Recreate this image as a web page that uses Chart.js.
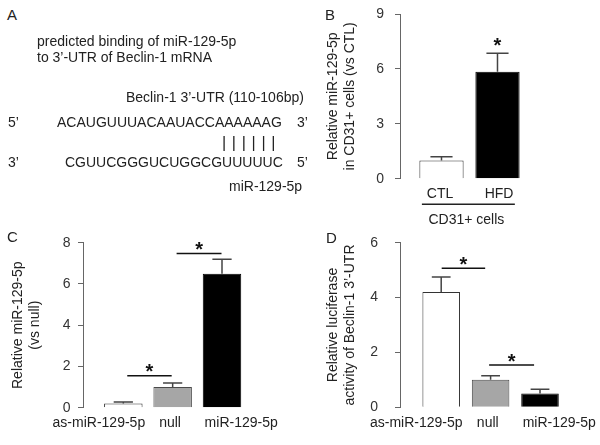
<!DOCTYPE html>
<html>
<head>
<meta charset="utf-8">
<script src="https://cdn.jsdelivr.net/npm/chart.js@4.4.1/dist/chart.umd.min.js"></script>
<style>
  body { margin: 0; background: #fff; }
  #fig { position: relative; width: 600px; height: 445px; overflow: hidden;
         font-family: "Liberation Sans", Arial, sans-serif; color: #222; }
  .t { position: absolute; white-space: nowrap; font-size: 14px; line-height: 16px; }
  .p { position: absolute; font-size: 15px; line-height: 18px; }
  .pipes { position: absolute; font-size: 16px; line-height: 18px; letter-spacing: 5.7px; }
  canvas { position: absolute; }
</style>
</head>
<body>
<div id="fig">
  <canvas id="chartB" width="300" height="232" style="left:300px;top:0"></canvas>
  <canvas id="chartC" width="300" height="220" style="left:0;top:225px"></canvas>
  <canvas id="chartD" width="300" height="220" style="left:300px;top:225px"></canvas>

  <!-- panel A: sequence alignment -->
  <div class="p" style="left:7px;top:6px">A</div>
  <div class="t" style="left:37px;top:33px">predicted binding of miR-129-5p</div>
  <div class="t" style="left:37px;top:49px">to 3’-UTR of Beclin-1 mRNA</div>
  <div class="t" style="left:126px;top:89px">Beclin-1 3’-UTR (110-106bp)</div>
  <div class="t" style="left:8px;top:114px">5’</div>
  <div class="t" style="left:57px;top:114px">ACAUGUUUACAAUACCAAAAAAG</div>
  <div class="t" style="left:297px;top:114px">3’</div>
  <div class="pipes" style="left:222px;top:134px">||||||</div>
  <div class="t" style="left:8px;top:154px">3’</div>
  <div class="t" style="left:65px;top:154px">CGUUCGGGUCUGGCGUUUUUC</div>
  <div class="t" style="left:297px;top:154px">5’</div>
  <div class="t" style="left:229px;top:178px">miR-129-5p</div>

  <div class="p" style="left:325px;top:6px">B</div>
  <div class="p" style="left:7px;top:228px">C</div>
  <div class="p" style="left:326px;top:229px">D</div>
</div>

<script>
// ---------- data ----------
const catB = ['CTL', 'HFD'];
const meanB = [1.0, 5.85];
const sdB = [0.2, 1.0];
const starB = [[2, 7.55]];           // [x, y] of the lone asterisk
const groupB = [0.65, 2.31, 'CD31+ cells'];

const catC = ['as-miR-129-5p', 'null', 'miR-129-5p'];
const meanC = [0.2, 1.0, 6.5];
const sdC = [0.08, 0.2, 0.7];
const sigC = [[1.08, 1.98, 1.55], [2.08, 2.99, 7.48]];   // [from, to, y]

const catD = ['as-miR-129-5p', 'null', 'miR-129-5p'];
const meanD = [4.2, 1.0, 0.5];
const sdD = [0.55, 0.15, 0.16];
const sigD = [[1.01, 1.89, 5.07], [1.97, 2.88, 1.54]];

const WHITE = '#ffffff', GREY = '#a6a6a6', BLACK = '#000000';
const edgeOf = { '#ffffff': '#333333', '#a6a6a6': '#4a4a4a', '#000000': '#000000' };

Chart.defaults.font.family = '"Liberation Sans", Arial, sans-serif';
Chart.defaults.font.size = 14;
Chart.defaults.color = '#333';

// error bars, significance lines and asterisks
const marks = {
  id: 'marks',
  afterDatasetsDraw(chart, args, o) {
    const ctx = chart.ctx;
    const xs = chart.scales.x, ys = chart.scales.y;
    const meta = chart.getDatasetMeta(0);
    ctx.save();
    ctx.strokeStyle = '#444';
    ctx.lineWidth = 1.5;
    meta.data.forEach((bar, i) => {
      const top = ys.getPixelForValue(o.means[i] + o.sd[i]);
      const half = bar.width / 4;
      ctx.beginPath();
      ctx.moveTo(bar.x, bar.y);
      ctx.lineTo(bar.x, top);
      ctx.moveTo(bar.x - half, top);
      ctx.lineTo(bar.x + half, top);
      ctx.stroke();
    });

    ctx.fillStyle = '#111';
    ctx.strokeStyle = '#111';
    ctx.lineWidth = 1.6;
    ctx.font = 'bold 20px "Liberation Sans", Arial, sans-serif';
    ctx.textAlign = 'center';
    ctx.textBaseline = 'alphabetic';
    (o.sig || []).forEach(([a, b, v]) => {
      const y = ys.getPixelForValue(v);
      const x1 = xs.getPixelForValue(a), x2 = xs.getPixelForValue(b);
      ctx.beginPath();
      ctx.moveTo(x1, y);
      ctx.lineTo(x2, y);
      ctx.stroke();
      ctx.fillText('*', (x1 + x2) / 2, y - 9 + 11.5);
    });
    (o.stars || []).forEach(([a, v]) => {
      ctx.fillText('*', xs.getPixelForValue(a), ys.getPixelForValue(v) + 11.5);
    });

    if (o.group) {
      const [a, b, label] = o.group;
      const x1 = xs.getPixelForValue(a), x2 = xs.getPixelForValue(b);
      const y = chart.chartArea.bottom + 25.5;
      ctx.strokeStyle = '#222';
      ctx.lineWidth = 1.5;
      ctx.beginPath();
      ctx.moveTo(x1, y);
      ctx.lineTo(x2, y);
      ctx.stroke();
      ctx.font = '14px "Liberation Sans", Arial, sans-serif';
      ctx.fillStyle = '#222';
      ctx.fillText(label, (x1 + x2) / 2 - 2, y + 19.5);
    }
    ctx.restore();
  }
};

function barChart(id, o) {
  const slots = o.cats.map((c, i) => ({ value: i + 1 }));
  return new Chart(document.getElementById(id), {
    type: 'bar',
    data: {
      datasets: [{
        data: o.means.map((v, i) => ({ x: i + 1, y: v })),
        xAxisID: 'x',
        yAxisID: 'y',
        backgroundColor: o.fills,
        borderColor: o.fills.map(f => edgeOf[f]),
        borderWidth: 1,
        barPercentage: o.barPct,
        categoryPercentage: 1
      }]
    },
    options: {
      responsive: false,
      animation: false,
      events: [],
      layout: { padding: { top: o.padTop, right: 10, left: 0, bottom: 0 } },
      plugins: {
        legend: { display: false },
        tooltip: { enabled: false },
        marks: { means: o.means, sd: o.sd, sig: o.sig, stars: o.stars, group: o.group }
      },
      scales: {
        x: {
          type: 'linear', display: false, offset: false, bounds: 'data',
          min: o.xMin, max: o.xMax,
          grid: { offset: false },
          afterBuildTicks: s => { s.ticks = slots.map(t => ({ ...t })); }
        },
        lab: {
          type: 'linear', position: 'bottom', offset: false, bounds: 'data',
          min: o.lMin, max: o.lMax,
          afterBuildTicks: s => { s.ticks = slots.map(t => ({ ...t })); },
          ticks: { callback: (v, i) => o.cats[i], padding: 7, color: '#222', maxRotation: 0, autoSkip: false },
          grid: { display: false, drawTicks: false, offset: false },
          border: { display: false },
          afterFit: s => { s.height = o.xH; s.paddingLeft = 0; s.paddingRight = 0; }
        },
        y: {
          min: 0, max: o.yMax,
          ticks: { stepSize: o.step, padding: o.tickPad, color: '#333' },
          grid: { drawOnChartArea: false, tickLength: 5, color: '#666' },
          border: { color: '#666' },
          title: {
            display: true, text: o.title, color: '#222',
            font: { size: 14, lineHeight: 1.2 }, padding: { top: o.titlePad, bottom: 0 }
          },
          afterFit: s => { s.width = o.yW; s.paddingTop = 0; s.paddingBottom = 0; }
        }
      }
    },
    plugins: [marks]
  });
}

barChart('chartB', {
  cats: catB, means: meanB, sd: sdB, stars: starB, group: groupB, fills: [WHITE, BLACK],
  yMax: 9, step: 3, title: ['Relative miR-129-5p', 'in CD31+ cells (vs CTL)'],
  padTop: 14, xH: 53.3, yW: 100, titlePad: 25, tickPad: 11,
  xMin: 0.259, xMax: 3.652, lMin: 0.322, lMax: 3.542, barPct: 0.79
});

barChart('chartC', {
  cats: catC, means: meanC, sd: sdC, sig: sigC, fills: [WHITE, GREY, BLACK],
  yMax: 8, step: 2, title: ['Relative miR-129-5p', '(vs null)'],
  padTop: 17.7, xH: 37.3, yW: 83, titlePad: 10, tickPad: 7.5,
  xMin: 0.183, xMax: 4.378, lMin: 0.777, lMax: 3.686, barPct: 0.78
});

barChart('chartD', {
  cats: catD, means: meanD, sd: sdD, sig: sigD, fills: [WHITE, GREY, BLACK],
  yMax: 6, step: 2, title: ['Relative luciferase', 'activity of Beclin-1 3’-UTR'],
  padTop: 17.7, xH: 37.7, yW: 100, titlePad: 25, tickPad: 17,
  xMin: 0.166, xMax: 4.012, lMin: 0.773, lMax: 3.430, barPct: 0.76
});
</script>
</body>
</html>
